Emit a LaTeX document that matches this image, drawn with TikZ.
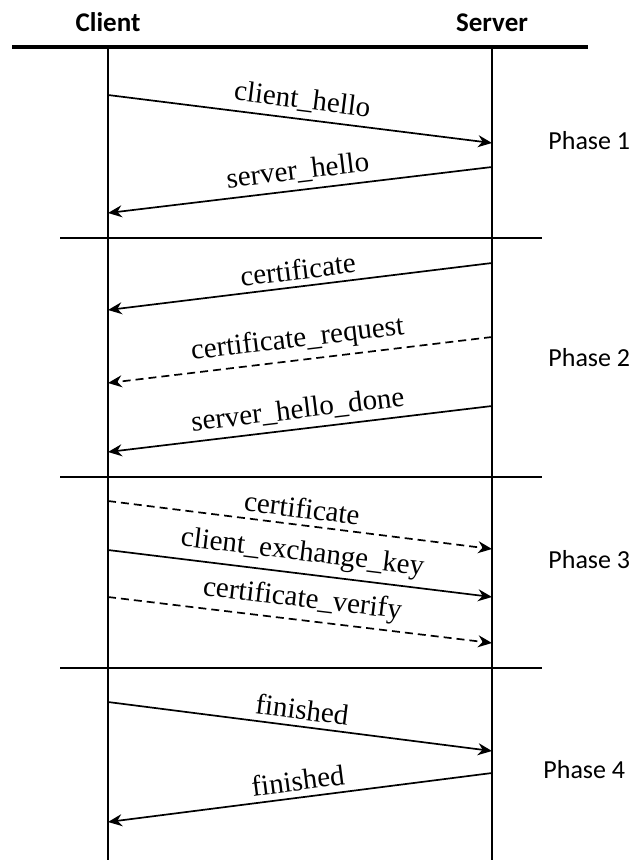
\documentclass[tikz,border=0pt]{standalone}
\usepackage{fontspec}
\setmainfont{Liberation Serif}
\newfontfamily\headfont{Carlito}
\usetikzlibrary{arrows.meta}
\tikzset{
  >={Stealth[length=7pt,width=6pt]},
  head/.style={font=\headfont\fontsize{13.5}{15}\selectfont\bfseries,anchor=base,inner sep=0pt},
  phase/.style={font=\headfont\fontsize{13}{15}\selectfont,anchor=base west,inner sep=0pt},
  life/.style={line width=0.65pt},
  sep/.style={line width=1pt},
  msg/.style={->,line width=0.85pt},
  opt/.style={msg,dash pattern=on 4pt off 2.5pt},
  lbl/.style={font=\fontsize{14.5}{16}\selectfont,midway,above=3pt,sloped,inner sep=0pt},
}

\begin{document}
\begin{tikzpicture}[x=0.5pt,y=-0.5pt]
  \useasboundingbox (0,0) rectangle (633,860);
  % headings and lifelines
  \node[head] (client) at (108,32) {Client};
  \node[head] (server) at (492,32) {Server};
  \coordinate (topL) at (12,47);
  \coordinate (topR) at (588,47);
  \draw[line width=2pt] (topL) -- (topR);
  \coordinate (cTop) at (108,47);
  \coordinate (cBot) at (108,860);
  \coordinate (sTop) at (492,47);
  \coordinate (sBot) at (492,860);
  \draw[life] (cTop) -- (cBot);
  \draw[life] (sTop) -- (sBot);
  % phase separators
  \foreach \y/\n in {238/1,477/2,668/3} {
    \coordinate (sepL\n) at (60,\y);
    \coordinate (sepR\n) at (542,\y);
    \draw[sep] (sepL\n) -- (sepR\n);
  }
  \node[phase] (ph1) at (548,150) {Phase 1};
  \node[phase] (ph2) at (548,366) {Phase 2};
  \node[phase] (ph3) at (548,568) {Phase 3};
  \node[phase] (ph4) at (543,778) {Phase 4};
  % message end points
  \coordinate (c1) at (108,95);  \coordinate (s1) at (492,143);
  \coordinate (s2) at (492,167); \coordinate (c2) at (108,213);
  \coordinate (s3) at (492,263); \coordinate (c3) at (108,310);
  \coordinate (s4) at (492,337); \coordinate (c4) at (108,383);
  \coordinate (s5) at (492,406); \coordinate (c5) at (108,452);
  \coordinate (c6) at (108,501); \coordinate (s6) at (492,549);
  \coordinate (c7) at (108,550); \coordinate (s7) at (492,597);
  \coordinate (c8) at (108,597); \coordinate (s8) at (492,643);
  \coordinate (c9) at (108,702); \coordinate (s9) at (492,751);
  \coordinate (s10) at (492,773); \coordinate (c10) at (108,822);
  % messages
  \draw[msg] (c1) -- node[lbl] {client\_hello} (s1);
  \draw[msg] (s2) -- node[lbl] {server\_hello} (c2);
  \draw[msg] (s3) -- node[lbl] {certificate} (c3);
  \draw[opt] (s4) -- node[lbl] {certificate\_request} (c4);
  \draw[msg] (s5) -- node[lbl] {server\_hello\_done} (c5);
  \draw[opt] (c6) -- node[lbl] {certificate} (s6);
  \draw[msg] (c7) -- node[lbl] {client\_exchange\_key} (s7);
  \draw[opt] (c8) -- node[lbl] {certificate\_verify} (s8);
  \draw[msg] (c9) -- node[lbl] {finished} (s9);
  \draw[msg] (s10) -- node[lbl] {finished} (c10);
\end{tikzpicture}
\end{document}
